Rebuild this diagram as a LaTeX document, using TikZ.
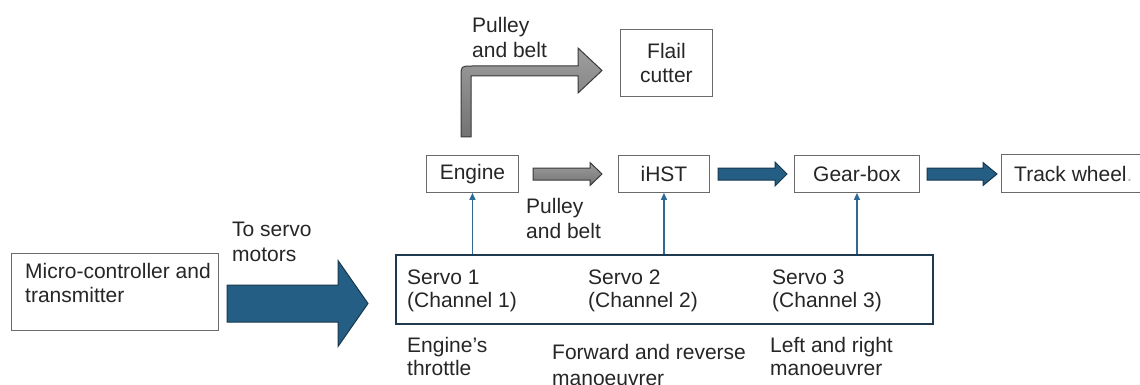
\documentclass[tikz,border=0pt]{standalone}
\usepackage{fontspec}
\setmainfont{Liberation Sans}
\usetikzlibrary{arrows.meta}

\definecolor{txtgray}{HTML}{262626}
\definecolor{boxline}{HTML}{6A6A6A}
\definecolor{navy}{HTML}{1F3A4F}
\definecolor{steel}{HTML}{245E84}
\definecolor{steeledge}{HTML}{17384D}
\definecolor{linkblue}{HTML}{2C6A94}
\definecolor{grayedge}{HTML}{3A3A3A}

% block arrow pointing right: style, x start, x tip, y centre, half shaft, half head, head length
\newcommand\blockarrow[7]{%
  \draw[#1] (#2,{#4-#5}) -- ({#3-#7},{#4-#5}) -- ({#3-#7},{#4-#6}) -- (#3,#4)
    -- ({#3-#7},{#4+#6}) -- ({#3-#7},{#4+#5}) -- (#2,{#4+#5}) -- cycle;}

% multi-line labels are placed by the baseline of their last line
\tikzset{
  box/.style={draw=boxline, line width=0.9pt, rectangle, inner sep=0pt, anchor=north west, fill=white},
  txt/.style={inner sep=0pt, align=left, anchor=base west},
  servobox/.style={draw=navy, line width=1.8pt, rectangle, inner sep=0pt, anchor=north west},
  bluearrow/.style={fill=steel, draw=steeledge, line width=1pt, line join=miter},
  grayarrow/.style={top color=black!38, bottom color=black!55, draw=grayedge, line width=1pt, line join=miter},
  link/.style={draw=linkblue, line width=1.3pt, -{Triangle[length=7pt,width=6pt]}}
}

\begin{document}
\begin{tikzpicture}[x=1pt, y=-1pt, font=\fontsize{21}{24}\selectfont, text=txtgray]
\useasboundingbox (0,0) rectangle (1140,385);

% main chain of boxes
\node[box, minimum width=92, minimum height=67] (flail) at (620,29) {};
\node[align=center, inner sep=0pt] (flailtxt) at (flail.center) {Flail\\cutter};
\node[box, minimum width=92, minimum height=37] (engine) at (426,155) {Engine};
\node[box, minimum width=91, minimum height=37] (ihst) at (618,155) {iHST};
\node[box, minimum width=125, minimum height=37] (gear) at (794,155) {Gear-box};
\node[box, minimum width=160, minimum height=38] (track) at (1001,154) {};
\node[txt] (tracktxt) at (1014,181) {Track wheel\textcolor{black!25}{.}};

% controller and servo block
\node[box, minimum width=207, minimum height=77] (mcu) at (11,253) {};
\node[txt] (mcutxt) at (25,302) {Micro-controller and\\transmitter};
\node[servobox, minimum width=537, minimum height=69] (servo) at (395,254) {};
\node[txt, font=\fontsize{21}{23}\selectfont] (s1) at (407,307) {Servo 1\\(Channel 1)};
\node[txt, font=\fontsize{21}{23}\selectfont] (s2) at (588,307) {Servo 2\\(Channel 2)};
\node[txt, font=\fontsize{21}{23}\selectfont] (s3) at (772,307) {Servo 3\\(Channel 3)};

% captions
\node[txt, font=\fontsize{21}{25}\selectfont] (pulleyA) at (472,58) {Pulley\\and belt};
\node[txt, font=\fontsize{21}{25}\selectfont] (pulleyB) at (526,238) {Pulley\\and belt};
\node[txt, font=\fontsize{21}{25}\selectfont] (toservo) at (232,261) {To servo\\motors};
\node[txt, font=\fontsize{21}{23}\selectfont] (c1) at (407,375) {Engine's\\throttle};
\node[txt, font=\fontsize{21}{26}\selectfont] (c2) at (552,385) {Forward and reverse\\manoeuvrer};
\node[txt, font=\fontsize{21}{23}\selectfont] (c3) at (770,375) {Left and right\\manoeuvrer};

% power transmission arrows
\draw[grayarrow] (461,137) -- (461,77) .. controls (461,66) .. (472,66) -- (578,66)
  -- (578,48) -- (602,70.5) -- (578,93) -- (578,76) -- (471,76) -- (471,137) -- cycle;
\blockarrow{grayarrow}{533}{602}{174}{6}{11.5}{12}
\blockarrow{bluearrow}{718}{787}{174}{6}{12}{12}
\blockarrow{bluearrow}{927}{997}{174}{6}{11.5}{14}
\blockarrow{bluearrow}{227}{368}{303.5}{18.5}{43}{30}

% servo control links
\draw[link] (engine.south |- servo.north) -- (engine.south);
\draw[link] (ihst.south |- servo.north) -- (ihst.south);
\draw[link] (gear.south |- servo.north) -- (gear.south);
\end{tikzpicture}
\end{document}
